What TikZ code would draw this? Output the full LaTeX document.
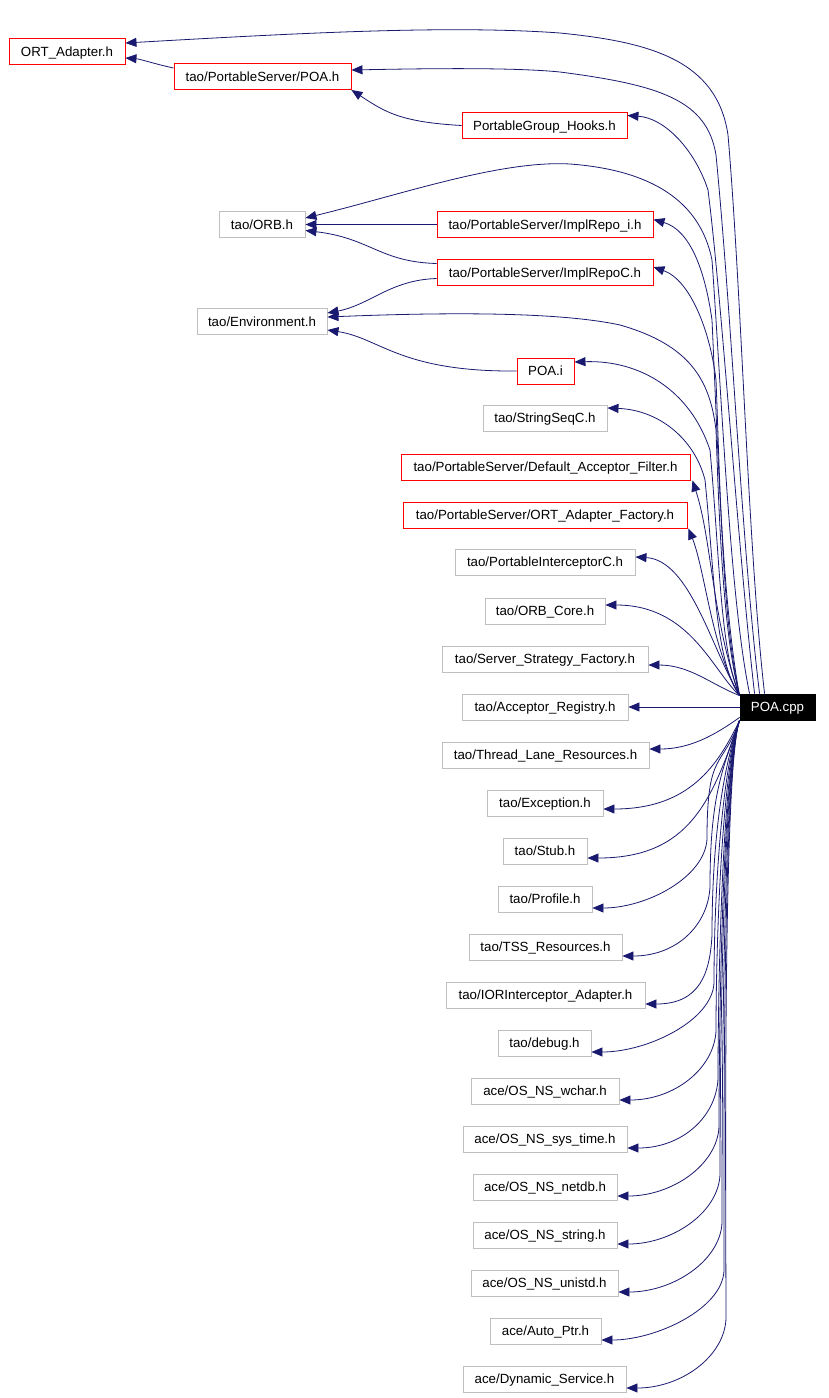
\documentclass[tikz,border=0pt]{standalone}
\usepackage{fontspec}
\setmainfont{Liberation Sans}
\usetikzlibrary{arrows.meta}
\definecolor{edgecol}{HTML}{191970}
\definecolor{redb}{HTML}{FF0000}
\definecolor{grayb}{HTML}{BFBFBF}
\begin{document}
\begin{tikzpicture}[x=1pt,y=-1pt,
 box/.style={draw, line width=0.9pt, minimum height=26pt, inner sep=0pt, text height=9.6pt, text depth=0pt, font=\fontsize{13.3}{16}\selectfont, fill=white},
 redbox/.style={box, draw=redb},
 graybox/.style={box, draw=grayb},
 rootbox/.style={box, draw=black, fill=black, text=white},
 edge/.style={draw=edgecol, line width=0.8pt, -{Triangle[length=11pt,width=9pt]}}]
\useasboundingbox[fill=white] (0,0) rectangle (828,1398);

% nodes
\node[redbox, minimum width=116pt] (ort) at (67,51.5) {ORT\_Adapter.h};
\node[redbox, minimum width=177pt] (poah) at (262.5,76.5) {tao/PortableServer/POA.h};
\node[redbox, minimum width=165pt] (hooks) at (544.5,125.5) {PortableGroup\_Hooks.h};
\node[graybox, minimum width=86pt] (orb) at (262,224.5) {tao/ORB.h};
\node[redbox, minimum width=216pt] (impli) at (545,224.5) {tao/PortableServer/ImplRepo\_i.h};
\node[redbox, minimum width=216pt] (implc) at (545,272.5) {tao/PortableServer/ImplRepoC.h};
\node[graybox, minimum width=130pt] (env) at (262,321.5) {tao/Environment.h};
\node[redbox, minimum width=57pt] (poai) at (545.5,371) {POA.i};
\node[graybox, minimum width=124pt] (strseq) at (545,418) {tao/StringSeqC.h};
\node[redbox, minimum width=289pt] (daf) at (545.5,467) {tao/PortableServer/Default\_Acceptor\_Filter.h};
\node[redbox, minimum width=284pt] (ortaf) at (545,515) {tao/PortableServer/ORT\_Adapter\_Factory.h};
\node[graybox, minimum width=180pt] (pic) at (545,562) {tao/PortableInterceptorC.h};
\node[graybox, minimum width=120pt] (orbcore) at (545,611) {tao/ORB\_Core.h};
\node[graybox, minimum width=206pt] (ssf) at (545,659) {tao/Server\_Strategy\_Factory.h};
\node[graybox, minimum width=166pt] (acc) at (545,707) {tao/Acceptor\_Registry.h};
\node[rootbox, minimum width=75pt] (poa) at (777.5,707) {POA.cpp};
\node[graybox, minimum width=207pt] (tlr) at (545.5,755) {tao/Thread\_Lane\_Resources.h};
\node[graybox, minimum width=116pt] (exc) at (545,803) {tao/Exception.h};
\node[graybox, minimum width=84pt] (stub) at (545,851) {tao/Stub.h};
\node[graybox, minimum width=94pt] (prof) at (545,899) {tao/Profile.h};
\node[graybox, minimum width=153pt] (tss) at (545.5,947) {tao/TSS\_Resources.h};
\node[graybox, minimum width=199pt] (ior) at (545.5,995) {tao/IORInterceptor\_Adapter.h};
\node[graybox, minimum width=93pt] (debug) at (544.5,1043) {tao/debug.h};
\node[graybox, minimum width=148pt] (wchar) at (545,1091) {ace/OS\_NS\_wchar.h};
\node[graybox, minimum width=164pt] (systime) at (545,1139) {ace/OS\_NS\_sys\_time.h};
\node[graybox, minimum width=144pt] (netdb) at (545,1187) {ace/OS\_NS\_netdb.h};
\node[graybox, minimum width=144pt] (string) at (545,1235) {ace/OS\_NS\_string.h};
\node[graybox, minimum width=147pt] (unistd) at (544.5,1283) {ace/OS\_NS\_unistd.h};
\node[graybox, minimum width=111pt] (autoptr) at (545.5,1331) {ace/Auto\_Ptr.h};
\node[graybox, minimum width=163pt] (dyn) at (544.5,1379) {ace/Dynamic\_Service.h};

% internal edges
\draw[edge] ([yshift=8.5pt]poah.west) .. controls (155,64) and (140,59) .. ([yshift=-6.5pt]ort.east);
\draw[edge] (hooks.west) .. controls (400,122) and (385,112) .. (poah.south east);
\draw[edge] (impli.west) -- (orb.east);
\draw[edge] ([yshift=9pt]implc.west) .. controls (380,262) and (370,238) .. ([yshift=-6pt]orb.east);
\draw[edge] ([yshift=-6pt]implc.west) .. controls (390,280) and (370,305) .. ([yshift=8.5pt]env.east);
\draw[edge] (poai.west) .. controls (400,372) and (380,338) .. ([yshift=-8.5pt]env.east);

% edges from POA.cpp (upper)
\draw[edge] ([xshift=25pt]poa.north west) .. controls (748,550) and (742,300) .. (728,135) .. controls (717,60) and (650,42) .. (560,33) .. controls (450,25) and (300,33) .. ([yshift=8.5pt]ort.east);
\draw[edge] ([xshift=20pt]poa.north west) .. controls (742,550) and (732,320) .. (716,155) .. controls (707,100) and (660,85) .. (560,72) .. controls (520,68) and (450,68) .. ([yshift=6.5pt]poah.east);
\draw[edge] ([xshift=15pt]poa.north west) .. controls (738,550) and (722,300) .. (708,190) .. controls (695,150) and (665,118) .. ([yshift=10pt]hooks.east);
\draw[edge] ([xshift=10pt]poa.north west) .. controls (730,600) and (722,400) .. (712,260) .. controls (700,200) and (650,170) .. (570,164) .. controls (500,160) and (400,195) .. ([yshift=6.5pt]orb.east);
\draw[edge] ([yshift=-2pt]poa.north west) .. controls (722,600) and (718,450) .. (712,320) .. controls (705,270) and (690,230) .. ([yshift=5pt]impli.east);
\draw[edge] ([yshift=-2pt]poa.north west) .. controls (722,620) and (720,480) .. (716,380) .. controls (710,330) and (690,280) .. ([yshift=5.5pt]implc.east);
\draw[edge] ([yshift=-2pt]poa.north west) .. controls (725,640) and (720,550) .. (716,430) .. controls (710,380) and (690,345) .. (620,325) .. controls (560,312) and (450,312) .. ([yshift=4.5pt]env.east);
\draw[edge] ([yshift=-2pt]poa.north west) .. controls (720,650) and (720,560) .. (710,450) .. controls (690,390) and (640,360) .. ([yshift=9pt]poai.east);
\draw[edge] ([yshift=-2pt]poa.north west) .. controls (715,660) and (715,580) .. (705,480) .. controls (695,440) and (660,410) .. ([yshift=10pt]strseq.east);
\draw[edge] ([yshift=-2pt]poa.north west) .. controls (712,620) and (712,540) .. ([xshift=2pt]daf.south east);
\draw[edge] ([yshift=-2pt]poa.north west) .. controls (712,650) and (705,570) .. ([xshift=1pt]ortaf.south east);
\draw[edge] ([yshift=-2pt]poa.north west) .. controls (712,650) and (690,560) .. ([yshift=5pt]pic.east);
\draw[edge] ([yshift=-2pt]poa.north west) .. controls (712,670) and (690,605) .. ([yshift=6pt]orbcore.east);
\draw[edge] ([yshift=-2pt]poa.north west) .. controls (712,685) and (690,665) .. ([yshift=-6pt]ssf.east);
\draw[edge] (poa.west) -- (acc.east);

% edges from POA.cpp (lower)
\draw[edge] ([yshift=3pt]poa.south west) .. controls (715,735) and (690,749) .. ([yshift=6pt]tlr.east);
\draw[edge] (poa.south west) .. controls (718,765) and (690,809) .. ([yshift=-6pt]exc.east);
\draw[edge] (poa.south west) .. controls (712,800) and (690,858) .. ([yshift=-7pt]stub.east);
\foreach \n/\y/\xr/\xb in {prof/899/592/707, tss/947/622/710, ior/995/645/712, debug/1043/592/714, wchar/1091/619/716, systime/1139/627/718, netdb/1187/617/719, string/1235/617/720, unistd/1283/618/722, autoptr/1331/601/724, dyn/1379/626/726}
{
  \draw[edge] (poa.south west) .. controls (722,770) and (\xb,\y-150) .. (\xb,\y-60) .. controls (\xb-2,\y-22) and (\xr+55,\y+9) .. ([yshift=-9pt]\n.east);
}
\end{tikzpicture}
\end{document}
